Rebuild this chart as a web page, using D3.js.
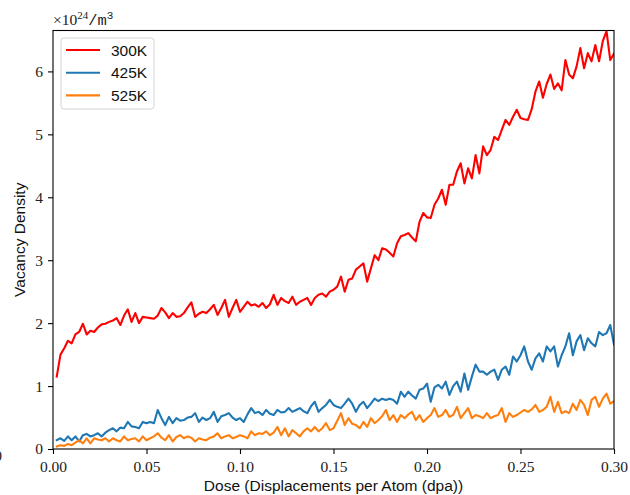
<!DOCTYPE html>
<html>
<head>
<meta charset="utf-8">
<script src="https://cdn.jsdelivr.net/npm/d3@7"></script>
<style>
  html, body { margin: 0; padding: 0; background: #fff; }
  svg { display: block; }
</style>
</head>
<body>
<svg id="chart" width="630" height="495"></svg>
<script>
// Dose grid (dpa), sampled every 0.002 dpa
const dose = d3.range(1, 151).map(i => +(i * 0.002).toFixed(3));

// Vacancy density (x10^24 / m^3) for each irradiation temperature
const v300 = [
  1.15, 1.50, 1.60, 1.72, 1.68, 1.82, 1.86, 1.99, 1.82, 1.88,
  1.86, 1.93, 1.98, 1.99, 2.02, 2.04, 2.08, 1.97, 2.12, 2.22,
  2.02, 2.16, 2.00, 2.10, 2.09, 2.08, 2.07, 2.12, 2.24, 2.17,
  2.08, 2.16, 2.10, 2.11, 2.16, 2.25, 2.33, 2.10, 2.15, 2.18,
  2.16, 2.22, 2.29, 2.13, 2.24, 2.37, 2.10, 2.24, 2.37, 2.18,
  2.26, 2.34, 2.28, 2.30, 2.26, 2.32, 2.24, 2.30, 2.45, 2.29,
  2.40, 2.35, 2.32, 2.42, 2.29, 2.34, 2.37, 2.40, 2.29, 2.40,
  2.45, 2.47, 2.42, 2.50, 2.53, 2.58, 2.74, 2.50, 2.69, 2.71,
  2.85, 2.90, 2.95, 2.66, 2.87, 3.08, 3.00, 3.19, 3.17, 3.12,
  3.06, 3.27, 3.38, 3.40, 3.43, 3.36, 3.30, 3.61, 3.75, 3.68,
  3.67, 3.88, 3.98, 4.12, 3.88, 4.20, 4.20, 4.41, 4.54, 4.22,
  4.46, 4.30, 4.67, 4.38, 4.81, 4.67, 4.75, 4.96, 4.91, 5.07,
  5.23, 5.15, 5.28, 5.39, 5.26, 5.24, 5.23, 5.40, 5.68, 5.84,
  5.58, 5.80, 5.95, 5.72, 5.81, 5.70, 6.18, 5.95, 5.89, 6.08,
  6.37, 6.05, 6.29, 6.16, 6.42, 6.16, 6.48, 6.64, 6.18, 6.28
];
const v425 = [
  0.14, 0.17, 0.13, 0.20, 0.14, 0.20, 0.12, 0.22, 0.24, 0.20,
  0.22, 0.25, 0.20, 0.26, 0.30, 0.33, 0.28, 0.34, 0.33, 0.43,
  0.36, 0.35, 0.33, 0.43, 0.41, 0.43, 0.41, 0.62, 0.49, 0.38,
  0.51, 0.41, 0.49, 0.45, 0.46, 0.50, 0.51, 0.57, 0.43, 0.50,
  0.46, 0.49, 0.59, 0.43, 0.52, 0.54, 0.57, 0.50, 0.46, 0.49,
  0.43, 0.55, 0.65, 0.57, 0.59, 0.54, 0.62, 0.56, 0.54, 0.62,
  0.58, 0.59, 0.65, 0.59, 0.62, 0.65, 0.60, 0.57, 0.68, 0.75,
  0.59, 0.65, 0.70, 0.78, 0.70, 0.67, 0.65, 0.72, 0.80, 0.72,
  0.59, 0.70, 0.75, 0.65, 0.72, 0.80, 0.76, 0.80, 0.78, 0.80,
  0.78, 0.72, 0.91, 0.83, 0.91, 0.85, 0.80, 0.94, 0.96, 1.04,
  0.75, 0.98, 1.02, 0.96, 1.07, 0.86, 1.00, 1.07, 0.91, 1.20,
  0.94, 1.15, 1.34, 1.23, 1.23, 1.18, 1.23, 1.26, 1.10, 1.26,
  1.31, 1.18, 1.47, 1.39, 1.49, 1.63, 1.39, 1.26, 1.44, 1.52,
  1.39, 1.63, 1.55, 1.63, 1.31, 1.49, 1.63, 1.84, 1.49, 1.71,
  1.81, 1.57, 1.76, 1.68, 1.63, 1.86, 1.81, 1.84, 1.97, 1.66
];
const v525 = [
  0.04, 0.06, 0.05, 0.08, 0.06, 0.10, 0.14, 0.09, 0.17, 0.09,
  0.17, 0.15, 0.14, 0.17, 0.12, 0.17, 0.14, 0.12, 0.20, 0.14,
  0.16, 0.17, 0.12, 0.20, 0.14, 0.17, 0.20, 0.25, 0.18, 0.14,
  0.22, 0.12, 0.19, 0.22, 0.17, 0.20, 0.18, 0.12, 0.17, 0.15,
  0.14, 0.18, 0.20, 0.25, 0.17, 0.20, 0.22, 0.17, 0.19, 0.22,
  0.20, 0.17, 0.28, 0.22, 0.25, 0.24, 0.28, 0.22, 0.26, 0.35,
  0.22, 0.33, 0.20, 0.30, 0.25, 0.20, 0.28, 0.33, 0.28, 0.35,
  0.28, 0.33, 0.41, 0.30, 0.33, 0.45, 0.57, 0.38, 0.49, 0.40,
  0.38, 0.33, 0.43, 0.35, 0.49, 0.41, 0.46, 0.52, 0.62, 0.46,
  0.54, 0.43, 0.54, 0.49, 0.55, 0.59, 0.46, 0.54, 0.43, 0.49,
  0.54, 0.65, 0.51, 0.54, 0.62, 0.51, 0.54, 0.67, 0.49, 0.57,
  0.65, 0.49, 0.54, 0.52, 0.49, 0.57, 0.49, 0.52, 0.54, 0.65,
  0.43, 0.57, 0.51, 0.54, 0.58, 0.62, 0.59, 0.63, 0.70, 0.59,
  0.62, 0.67, 0.83, 0.59, 0.75, 0.57, 0.60, 0.57, 0.72, 0.62,
  0.78, 0.70, 0.54, 0.78, 0.83, 0.67, 0.80, 0.88, 0.72, 0.76
];

const seriesNames = ["300K", "425K", "525K"];
const seriesColors = ["#ff0000", "#1f77b4", "#ff7f0e"];
const xTickValues = [0, 0.05, 0.10, 0.15, 0.20, 0.25, 0.30];
const yTickValues = [0, 1, 2, 3, 4, 5, 6];

const svg = d3.select("#chart");
const plotLeft = 53, plotRight = 614, plotTop = 30.5, plotBottom = 449;

const x = d3.scaleLinear().domain([0, 0.30]).range([plotLeft, plotRight]);
const y = d3.scaleLinear().domain([0, 6.65]).range([plotBottom, plotTop]);

const serifFont = "'Liberation Serif', 'Times New Roman', serif";
const sansFont = "'Liberation Sans', Arial, sans-serif";

svg.append("defs").append("clipPath").attr("id", "plot-clip")
  .append("rect")
  .attr("x", plotLeft).attr("y", plotTop)
  .attr("width", plotRight - plotLeft).attr("height", plotBottom - plotTop);

// Series lines
const series = [v300, v425, v525];
const line = d3.line().x(d => x(d[0])).y(d => y(d[1]));
const gLines = svg.append("g").attr("clip-path", "url(#plot-clip)");
series.forEach((vals, i) => {
  gLines.append("path")
    .datum(dose.map((dv, j) => [dv, vals[j]]))
    .attr("fill", "none")
    .attr("stroke", seriesColors[i])
    .attr("stroke-width", 2.1)
    .attr("stroke-linejoin", "round")
    .attr("stroke-linecap", "square")
    .attr("d", line);
});

// Axes
const xAxis = d3.axisBottom(x)
  .tickValues(xTickValues)
  .tickFormat(d3.format(".2f"))
  .tickSize(5).tickPadding(7);
const yAxis = d3.axisLeft(y)
  .tickValues(yTickValues)
  .tickFormat(d3.format("d"))
  .tickSize(5).tickPadding(5);

const gx = svg.append("g").attr("transform", `translate(0,${plotBottom})`).call(xAxis);
const gy = svg.append("g").attr("transform", `translate(${plotLeft},0)`).call(yAxis);
[gx, gy].forEach(g => {
  g.select(".domain").remove();
  g.selectAll(".tick line").attr("stroke", "#000").attr("stroke-width", 1.1);
  g.selectAll(".tick text")
    .attr("fill", "#222")
    .style("font-family", serifFont)
    .style("font-size", "15.5px");
});

// Frame
svg.append("rect")
  .attr("x", plotLeft).attr("y", plotTop)
  .attr("width", plotRight - plotLeft).attr("height", plotBottom - plotTop)
  .attr("fill", "none").attr("stroke", "#000").attr("stroke-width", 1.1);

// Axis titles
svg.append("text")
  .attr("x", (plotLeft + plotRight) / 2).attr("y", 491)
  .attr("text-anchor", "middle")
  .style("font-family", sansFont).style("font-size", "15.5px")
  .attr("fill", "#111")
  .text("Dose (Displacements per Atom (dpa))");

svg.append("text")
  .attr("transform", `translate(25,${(plotTop + plotBottom) / 2}) rotate(-90)`)
  .attr("text-anchor", "middle")
  .style("font-family", sansFont).style("font-size", "15.5px")
  .attr("fill", "#111")
  .text("Vacancy Density");

// Offset / unit label above the y axis
const unit = svg.append("text")
  .attr("x", plotLeft).attr("y", 25)
  .style("font-family", serifFont).style("font-size", "15.5px")
  .attr("fill", "#222");
unit.append("tspan").text("×10");
unit.append("tspan").attr("dy", -6).style("font-size", "11px").text("24");
unit.append("tspan").attr("dy", 6).style("font-family", "'Liberation Mono', monospace").text("/m");
unit.append("tspan").attr("dy", -6).style("font-size", "11px")
  .style("font-family", "'Liberation Mono', monospace").text("3");

// Partially visible glyph at the left edge
svg.append("text")
  .attr("x", 2).attr("y", 461)
  .attr("text-anchor", "end")
  .style("font-family", serifFont).style("font-size", "15.5px")
  .attr("fill", "#222")
  .text("0");

// Legend
const legend = svg.append("g");
legend.append("rect")
  .attr("x", 61).attr("y", 38)
  .attr("width", 93).attr("height", 71)
  .attr("rx", 3).attr("ry", 3)
  .attr("fill", "#fff").attr("fill-opacity", 0.8)
  .attr("stroke", "#d5d5d5").attr("stroke-width", 1);
seriesNames.forEach((name, i) => {
  const cy = 50 + i * 22.7;
  legend.append("line")
    .attr("x1", 66).attr("x2", 100)
    .attr("y1", cy).attr("y2", cy)
    .attr("stroke", seriesColors[i]).attr("stroke-width", 2.1);
  legend.append("text")
    .attr("x", 111).attr("y", cy + 5.5)
    .style("font-family", sansFont).style("font-size", "15.5px")
    .attr("fill", "#111")
    .text(name);
});
</script>
</body>
</html>
